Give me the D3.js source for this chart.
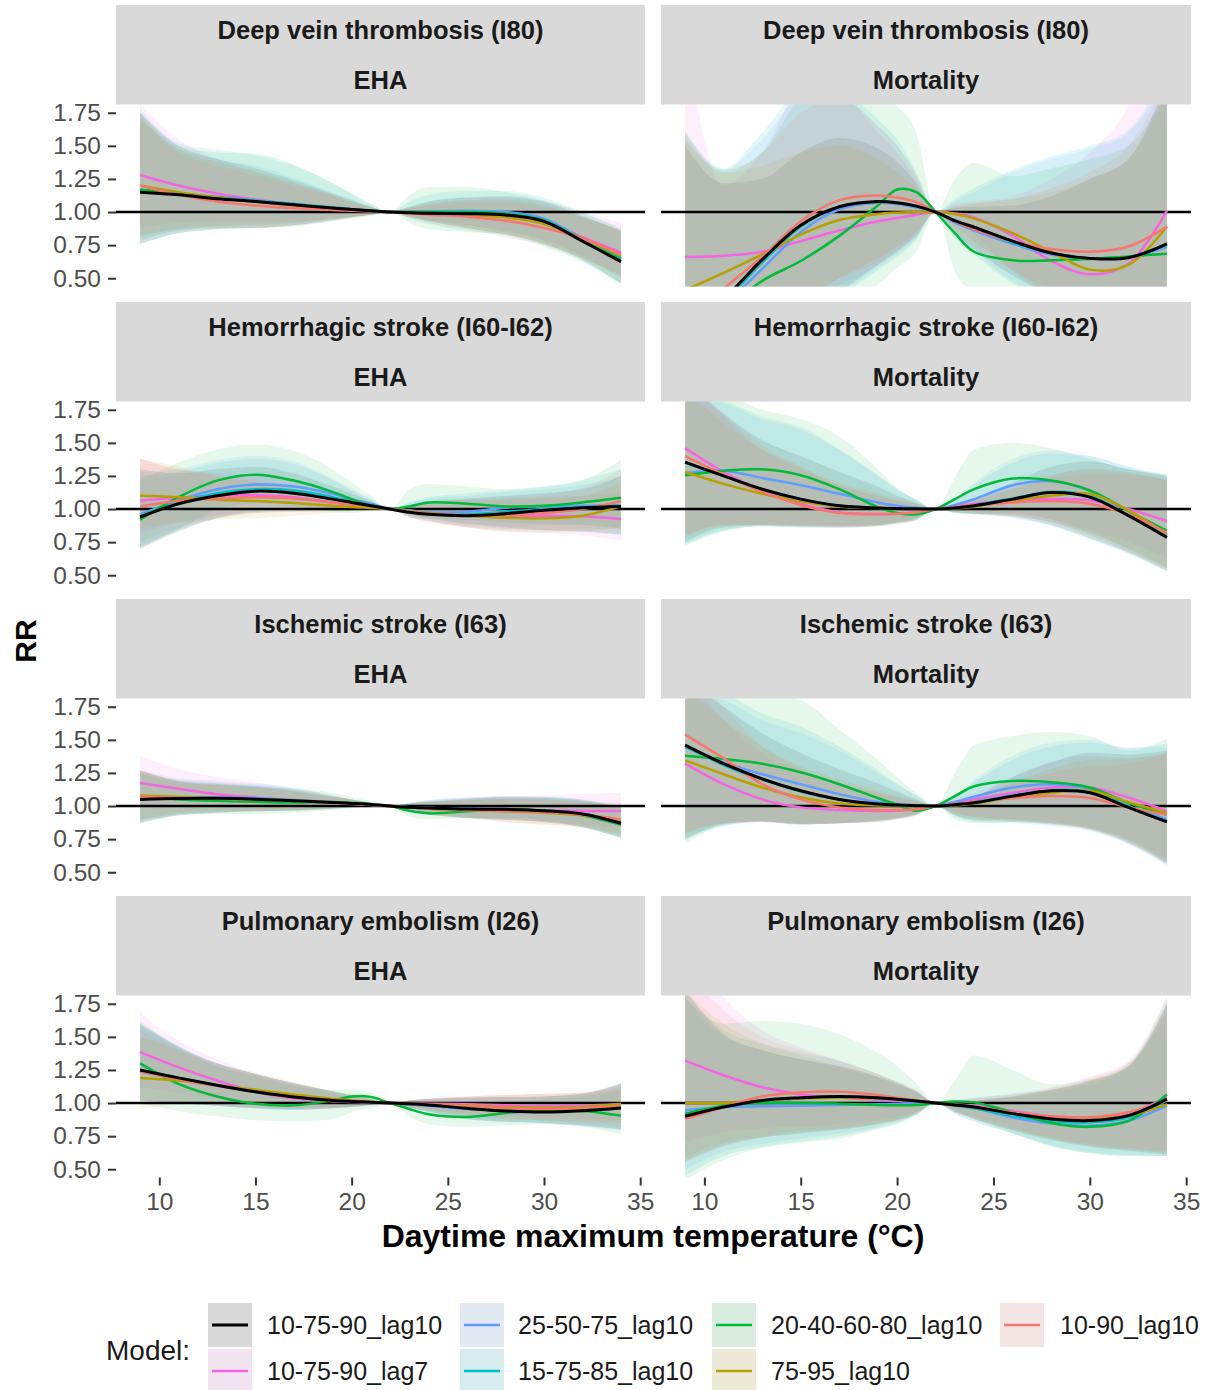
<!DOCTYPE html>
<html>
<head>
<meta charset="utf-8">
<script src="https://cdn.jsdelivr.net/npm/d3@7"></script>
<style>
  html, body { margin: 0; padding: 0; background: #ffffff; }
  svg { display: block; font-family: "Liberation Sans", Arial, Helvetica, sans-serif; }
</style>
</head>
<body>
<svg id="chart" width="1210" height="1390"></svg>
<script>
// ---------------------------------------------------------------------------
// Data: relative risk (RR) curves by daytime maximum temperature, reference 22 °C
// ---------------------------------------------------------------------------
const temps = [9, 11, 13, 15, 17, 19, 20, 21, 22, 23, 24, 26, 28, 30, 32, 34];
const models = ["10-75-90_lag10", "10-75-90_lag7", "25-50-75_lag10", "15-75-85_lag10",
                "20-40-60-80_lag10", "75-95_lag10", "10-90_lag10"];
const modelColors = ["#000000", "#F564E3", "#619CFF", "#00BFC4", "#00BA38", "#B79F00", "#F8766D"];
const outcomes = ["Deep vein thrombosis (I80)", "Hemorrhagic stroke (I60-I62)",
                  "Ischemic stroke (I63)", "Pulmonary embolism (I26)"];
const sources = ["EHA", "Mortality"];
const rrTicks = [0.50, 0.75, 1.00, 1.25, 1.50, 1.75];
const tempTicks = [10, 15, 20, 25, 30, 35];

// Deep vein thrombosis, EHA
const dvtEhaRR = [
  [1.15,1.13,1.10,1.08,1.055,1.03,1.02,1.01,1,0.995,0.99,0.988,0.978,0.93,0.78,0.625],
  [1.28,1.20,1.14,1.095,1.06,1.03,1.02,1.01,1,0.995,0.99,0.988,0.975,0.93,0.81,0.695],
  [1.165,1.14,1.115,1.09,1.06,1.035,1.022,1.01,1,1.0,1.005,1.01,1.0,0.95,0.80,0.665],
  [1.16,1.135,1.11,1.085,1.06,1.035,1.022,1.01,1,0.998,1.0,1.0,0.99,0.94,0.79,0.65],
  [1.17,1.14,1.11,1.08,1.055,1.03,1.02,1.01,1,1.0,1.0,1.0,0.985,0.935,0.785,0.64],
  [1.20,1.15,1.11,1.08,1.05,1.025,1.016,1.008,1,0.99,0.985,0.975,0.96,0.91,0.80,0.67],
  [1.20,1.13,1.08,1.05,1.03,1.015,1.01,1.005,1,0.99,0.98,0.965,0.935,0.88,0.80,0.68]
];
const dvtEhaLow = [
  [0.76,0.84,0.87,0.88,0.90,0.94,0.96,0.98,1,0.96,0.93,0.88,0.83,0.76,0.64,0.46],
  [0.88,0.92,0.93,0.93,0.93,0.95,0.965,0.98,1,0.97,0.94,0.90,0.86,0.79,0.67,0.53],
  [0.80,0.86,0.89,0.90,0.92,0.95,0.965,0.98,1,0.97,0.94,0.90,0.85,0.78,0.66,0.50],
  [0.76,0.84,0.87,0.88,0.90,0.94,0.96,0.98,1,0.95,0.91,0.86,0.82,0.74,0.62,0.45],
  [0.78,0.86,0.88,0.88,0.89,0.93,0.95,0.97,1,0.92,0.87,0.85,0.83,0.75,0.63,0.46],
  [0.82,0.88,0.90,0.91,0.92,0.95,0.965,0.98,1,0.96,0.93,0.88,0.83,0.76,0.65,0.51],
  [0.82,0.87,0.88,0.88,0.90,0.93,0.955,0.98,1,0.96,0.92,0.87,0.81,0.75,0.65,0.52]
];
const dvtEhaHigh = [
  [1.75,1.50,1.40,1.33,1.24,1.14,1.09,1.04,1,1.04,1.08,1.11,1.12,1.08,0.97,0.86],
  [1.82,1.55,1.40,1.30,1.22,1.13,1.08,1.04,1,1.03,1.06,1.09,1.10,1.08,1.00,0.92],
  [1.70,1.48,1.40,1.35,1.26,1.15,1.10,1.04,1,1.04,1.08,1.11,1.11,1.07,0.97,0.85],
  [1.78,1.52,1.47,1.43,1.35,1.22,1.14,1.06,1,1.08,1.13,1.16,1.16,1.11,1.00,0.88],
  [1.75,1.50,1.45,1.44,1.36,1.22,1.14,1.06,1,1.13,1.19,1.19,1.15,1.09,0.99,0.87],
  [1.72,1.47,1.38,1.31,1.22,1.13,1.08,1.04,1,1.03,1.06,1.09,1.09,1.05,0.96,0.86],
  [1.72,1.45,1.35,1.28,1.20,1.12,1.07,1.03,1,1.03,1.05,1.07,1.07,1.04,0.96,0.86]
];

// Deep vein thrombosis, mortality
const dvtMortRR = [
  [0.18,0.35,0.64,0.90,1.04,1.08,1.07,1.045,1,0.935,0.885,0.78,0.69,0.65,0.655,0.76],
  [0.66,0.67,0.70,0.78,0.86,0.93,0.955,0.98,1,0.99,0.96,0.82,0.63,0.53,0.61,1.01],
  [0.10,0.30,0.57,0.85,1.02,1.07,1.06,1.035,1,0.92,0.86,0.76,0.68,0.65,0.66,0.735],
  [0.15,0.33,0.62,0.89,1.04,1.08,1.07,1.045,1,0.935,0.88,0.77,0.69,0.65,0.66,0.75],
  [0.05,0.25,0.48,0.63,0.82,1.05,1.17,1.15,1,0.84,0.70,0.635,0.635,0.645,0.665,0.685],
  [0.41,0.54,0.68,0.83,0.94,0.985,0.995,1.0,1,0.985,0.95,0.84,0.70,0.565,0.60,0.89],
  [0.12,0.42,0.66,0.93,1.09,1.125,1.11,1.075,1,0.93,0.87,0.78,0.72,0.70,0.74,0.89]
];
const dvtMortLow = [
  [0.10,0.10,0.12,0.25,0.40,0.60,0.70,0.82,1,0.83,0.72,0.52,0.38,0.30,0.25,0.20],
  [0.20,0.20,0.25,0.32,0.45,0.60,0.70,0.82,1,0.92,0.82,0.55,0.35,0.25,0.25,0.40],
  [0.10,0.10,0.10,0.20,0.38,0.58,0.68,0.80,1,0.82,0.70,0.48,0.35,0.28,0.25,0.20],
  [0.10,0.10,0.10,0.20,0.36,0.56,0.66,0.79,1,0.80,0.68,0.46,0.33,0.27,0.24,0.20],
  [0.05,0.05,0.05,0.10,0.25,0.45,0.58,0.70,1,0.55,0.40,0.35,0.33,0.32,0.32,0.35],
  [0.10,0.12,0.20,0.35,0.50,0.65,0.74,0.85,1,0.88,0.78,0.56,0.38,0.28,0.26,0.30],
  [0.10,0.10,0.12,0.30,0.50,0.62,0.72,0.84,1,0.85,0.74,0.56,0.42,0.36,0.34,0.40]
];
const dvtMortHigh = [
  [1.50,1.22,1.25,1.45,1.56,1.48,1.38,1.22,1,1.03,1.04,1.05,1.12,1.25,1.40,2.00],
  [2.30,1.20,1.45,1.90,1.90,1.60,1.45,1.25,1,1.06,1.08,1.12,1.25,1.45,1.80,2.50],
  [1.55,1.32,1.55,1.85,1.85,1.65,1.50,1.28,1,1.08,1.15,1.30,1.40,1.48,1.60,2.00],
  [1.62,1.33,1.60,1.90,1.90,1.70,1.55,1.30,1,1.10,1.18,1.32,1.42,1.50,1.62,2.10],
  [1.60,1.32,1.45,1.85,1.95,1.90,1.80,1.60,1,1.25,1.37,1.27,1.33,1.40,1.50,1.90],
  [1.55,1.30,1.35,1.45,1.50,1.40,1.30,1.18,1,1.04,1.06,1.10,1.15,1.25,1.40,1.90],
  [1.60,1.30,1.45,1.75,1.85,1.65,1.50,1.28,1,1.05,1.07,1.10,1.18,1.30,1.50,2.00]
];

// Hemorrhagic stroke, EHA
const hemEhaRR = [
  [0.94,1.04,1.10,1.135,1.12,1.075,1.05,1.025,1,0.975,0.96,0.95,0.965,0.99,1.01,1.02],
  [1.065,1.085,1.10,1.105,1.09,1.05,1.035,1.02,1,0.98,0.965,0.95,0.94,0.95,0.945,0.925],
  [0.96,1.065,1.15,1.185,1.17,1.115,1.075,1.04,1,0.99,0.975,0.98,1.01,1.02,1.025,1.03],
  [0.95,1.05,1.12,1.15,1.14,1.09,1.06,1.03,1,0.98,0.965,0.96,0.98,1.0,1.015,1.025],
  [0.92,1.09,1.215,1.26,1.215,1.13,1.075,1.025,1,1.02,1.05,1.04,1.02,1.025,1.05,1.085],
  [1.10,1.09,1.07,1.06,1.045,1.025,1.015,1.008,1,0.985,0.97,0.95,0.935,0.93,0.95,1.02],
  [1.02,1.06,1.08,1.09,1.08,1.05,1.035,1.02,1,0.98,0.965,0.955,0.955,0.97,1.0,1.06]
];
const hemEhaLow = [
  [0.70,0.83,0.93,0.98,0.99,0.99,0.99,0.995,1,0.96,0.93,0.89,0.86,0.84,0.83,0.81],
  [0.82,0.90,0.95,0.97,0.98,0.985,0.99,0.995,1,0.94,0.91,0.86,0.83,0.82,0.80,0.76],
  [0.72,0.85,0.95,0.99,1.0,0.99,0.99,0.995,1,0.95,0.92,0.88,0.87,0.88,0.88,0.86],
  [0.72,0.84,0.93,0.97,0.98,0.98,0.985,0.99,1,0.94,0.91,0.87,0.85,0.84,0.83,0.80],
  [0.70,0.85,0.99,1.04,1.02,0.98,0.97,0.985,1,0.94,0.93,0.92,0.90,0.89,0.88,0.85],
  [0.85,0.90,0.92,0.93,0.95,0.97,0.98,0.99,1,0.94,0.91,0.86,0.83,0.82,0.83,0.86],
  [0.75,0.86,0.93,0.97,0.98,0.985,0.99,0.995,1,0.94,0.90,0.86,0.84,0.84,0.85,0.85]
];
const hemEhaHigh = [
  [1.30,1.27,1.30,1.32,1.27,1.17,1.12,1.06,1,1.03,1.06,1.08,1.10,1.12,1.15,1.25],
  [1.38,1.30,1.27,1.26,1.22,1.13,1.09,1.05,1,1.03,1.05,1.07,1.08,1.09,1.10,1.13],
  [1.28,1.30,1.37,1.40,1.36,1.23,1.15,1.08,1,1.05,1.08,1.10,1.13,1.15,1.18,1.25],
  [1.25,1.28,1.35,1.38,1.34,1.22,1.14,1.07,1,1.05,1.09,1.12,1.14,1.17,1.22,1.30],
  [1.22,1.35,1.45,1.49,1.44,1.30,1.20,1.10,1,1.15,1.19,1.17,1.15,1.17,1.22,1.37],
  [1.38,1.32,1.25,1.20,1.15,1.09,1.06,1.03,1,1.03,1.05,1.06,1.07,1.08,1.10,1.20],
  [1.38,1.30,1.25,1.22,1.18,1.12,1.08,1.04,1,1.03,1.05,1.07,1.08,1.11,1.16,1.30]
];

// Hemorrhagic stroke, mortality
const hemMortRR = [
  [1.355,1.25,1.15,1.075,1.025,1.008,1.004,1.002,1,1.008,1.025,1.075,1.125,1.09,0.95,0.785],
  [1.46,1.28,1.14,1.04,0.975,0.962,0.965,0.975,1,1.02,1.04,1.065,1.075,1.065,1.0,0.91],
  [1.27,1.29,1.235,1.18,1.115,1.05,1.025,1.01,1,1.03,1.075,1.18,1.21,1.14,0.985,0.80],
  [1.35,1.25,1.15,1.075,1.025,1.008,1.004,1.002,1,1.01,1.03,1.08,1.13,1.10,0.955,0.79],
  [1.255,1.29,1.30,1.255,1.15,1.015,0.97,0.96,1,1.075,1.15,1.23,1.215,1.14,0.985,0.835],
  [1.28,1.19,1.115,1.058,1.018,1.008,1.004,1.002,1,1.005,1.018,1.064,1.10,1.115,0.99,0.81],
  [1.40,1.26,1.13,1.03,0.97,0.96,0.965,0.975,1,1.015,1.03,1.05,1.06,1.04,0.96,0.82]
];
const hemMortLow = [
  [0.75,0.86,0.88,0.875,0.87,0.88,0.90,0.93,1,0.975,0.965,0.94,0.88,0.78,0.67,0.53],
  [0.80,0.88,0.88,0.87,0.86,0.87,0.89,0.92,1,0.985,0.98,0.96,0.92,0.84,0.75,0.63],
  [0.74,0.84,0.87,0.87,0.87,0.88,0.90,0.92,1,0.97,0.96,0.95,0.90,0.80,0.68,0.54],
  [0.73,0.84,0.87,0.86,0.86,0.87,0.89,0.92,1,0.97,0.96,0.93,0.87,0.77,0.66,0.53],
  [0.72,0.83,0.87,0.86,0.86,0.87,0.89,0.91,1,0.97,0.96,0.97,0.92,0.82,0.70,0.56],
  [0.78,0.87,0.88,0.87,0.87,0.88,0.90,0.93,1,0.98,0.97,0.95,0.90,0.80,0.68,0.55],
  [0.80,0.88,0.88,0.87,0.86,0.87,0.89,0.92,1,0.98,0.97,0.95,0.90,0.82,0.70,0.55]
];
const hemMortHigh = [
  [1.95,1.72,1.52,1.40,1.28,1.17,1.10,1.05,1,1.03,1.07,1.20,1.32,1.36,1.30,1.25],
  [2.00,1.70,1.45,1.30,1.18,1.10,1.07,1.04,1,1.04,1.08,1.18,1.26,1.30,1.28,1.22],
  [1.85,1.80,1.68,1.60,1.45,1.26,1.15,1.07,1,1.08,1.20,1.38,1.44,1.40,1.32,1.25],
  [1.90,1.82,1.70,1.62,1.45,1.25,1.15,1.07,1,1.08,1.18,1.35,1.42,1.40,1.32,1.26],
  [1.80,1.85,1.75,1.68,1.55,1.30,1.16,1.07,1,1.24,1.45,1.50,1.46,1.38,1.30,1.26],
  [1.90,1.65,1.45,1.32,1.20,1.12,1.08,1.04,1,1.03,1.06,1.15,1.25,1.30,1.27,1.22],
  [2.00,1.72,1.48,1.32,1.18,1.10,1.06,1.03,1,1.03,1.07,1.15,1.23,1.26,1.26,1.22]
];

// Ischemic stroke, EHA
const iscEhaRR = [
  [1.05,1.057,1.058,1.052,1.04,1.027,1.02,1.012,1,0.99,0.985,0.977,0.975,0.965,0.94,0.87],
  [1.175,1.13,1.09,1.065,1.04,1.022,1.015,1.008,1,0.99,0.985,0.977,0.973,0.968,0.963,0.962],
  [1.06,1.065,1.065,1.058,1.045,1.03,1.02,1.012,1,0.99,0.985,0.978,0.975,0.965,0.94,0.87],
  [1.055,1.06,1.06,1.055,1.04,1.027,1.02,1.01,1,0.99,0.985,0.977,0.974,0.962,0.935,0.86],
  [1.075,1.05,1.04,1.032,1.027,1.03,1.025,1.015,1,0.965,0.945,0.96,0.975,0.965,0.93,0.86],
  [1.08,1.07,1.06,1.05,1.04,1.027,1.02,1.01,1,0.99,0.98,0.97,0.96,0.95,0.93,0.89],
  [1.07,1.06,1.055,1.05,1.04,1.027,1.02,1.01,1,0.99,0.98,0.97,0.962,0.952,0.935,0.90]
];
const iscEhaLow = [
  [0.87,0.93,0.95,0.96,0.965,0.98,0.99,0.995,1,0.965,0.94,0.91,0.895,0.88,0.84,0.76],
  [0.98,0.98,0.975,0.97,0.975,0.985,0.99,0.995,1,0.965,0.945,0.92,0.90,0.88,0.86,0.84],
  [0.88,0.94,0.95,0.96,0.97,0.98,0.99,0.995,1,0.96,0.935,0.91,0.90,0.885,0.85,0.77],
  [0.87,0.93,0.95,0.96,0.965,0.98,0.99,0.995,1,0.96,0.935,0.91,0.895,0.88,0.84,0.76],
  [0.89,0.93,0.94,0.94,0.95,0.97,0.985,0.99,1,0.92,0.90,0.91,0.91,0.89,0.84,0.76],
  [0.90,0.95,0.96,0.965,0.97,0.985,0.99,0.995,1,0.965,0.94,0.91,0.88,0.86,0.84,0.78],
  [0.89,0.94,0.955,0.96,0.97,0.985,0.99,0.995,1,0.965,0.94,0.91,0.88,0.86,0.84,0.79]
];
const iscEhaHigh = [
  [1.27,1.19,1.17,1.15,1.12,1.07,1.05,1.025,1,1.02,1.035,1.055,1.065,1.06,1.04,0.99],
  [1.38,1.28,1.22,1.18,1.13,1.08,1.05,1.025,1,1.02,1.04,1.06,1.075,1.08,1.09,1.10],
  [1.27,1.21,1.19,1.17,1.14,1.08,1.05,1.025,1,1.025,1.045,1.065,1.075,1.07,1.05,1.00],
  [1.26,1.20,1.18,1.16,1.13,1.08,1.05,1.025,1,1.025,1.045,1.065,1.07,1.065,1.045,0.99],
  [1.25,1.18,1.16,1.15,1.13,1.10,1.07,1.04,1,1.02,1.03,1.05,1.07,1.07,1.05,0.99],
  [1.27,1.19,1.16,1.14,1.11,1.07,1.05,1.025,1,1.02,1.03,1.045,1.055,1.05,1.03,1.02],
  [1.27,1.19,1.16,1.14,1.11,1.07,1.05,1.025,1,1.02,1.03,1.045,1.055,1.05,1.035,1.03]
];

// Ischemic stroke, mortality
const iscMortRR = [
  [1.46,1.32,1.205,1.115,1.05,1.015,1.007,1.003,1,1.01,1.025,1.075,1.115,1.10,0.99,0.88],
  [1.32,1.165,1.05,0.99,0.97,0.962,0.965,0.975,1,1.03,1.05,1.10,1.14,1.14,1.065,0.962],
  [1.445,1.33,1.24,1.165,1.09,1.03,1.015,1.005,1,1.03,1.07,1.14,1.165,1.13,1.0,0.90],
  [1.45,1.31,1.20,1.11,1.05,1.015,1.007,1.003,1,1.01,1.03,1.08,1.12,1.11,1.0,0.885],
  [1.38,1.355,1.32,1.255,1.165,1.06,1.01,0.965,1,1.075,1.15,1.19,1.18,1.14,1.025,0.935],
  [1.345,1.24,1.14,1.065,1.02,1.005,1.003,1.001,1,1.005,1.02,1.065,1.10,1.115,1.03,0.95],
  [1.54,1.36,1.165,1.05,0.99,0.97,0.97,0.975,1,1.015,1.03,1.06,1.075,1.06,0.99,0.935]
];
const iscMortLow = [
  [0.75,0.86,0.885,0.865,0.87,0.89,0.91,0.94,1,0.93,0.89,0.88,0.86,0.82,0.72,0.56],
  [0.80,0.87,0.88,0.86,0.87,0.88,0.90,0.93,1,0.95,0.92,0.90,0.88,0.84,0.75,0.60],
  [0.76,0.86,0.885,0.865,0.87,0.89,0.91,0.94,1,0.93,0.90,0.89,0.87,0.83,0.73,0.57],
  [0.74,0.85,0.88,0.86,0.87,0.885,0.905,0.935,1,0.92,0.88,0.87,0.85,0.81,0.71,0.55],
  [0.72,0.85,0.88,0.86,0.87,0.88,0.90,0.93,1,0.90,0.87,0.88,0.87,0.83,0.74,0.58],
  [0.78,0.87,0.885,0.865,0.87,0.89,0.91,0.94,1,0.94,0.91,0.89,0.87,0.83,0.74,0.58],
  [0.80,0.87,0.88,0.86,0.87,0.88,0.90,0.93,1,0.95,0.92,0.90,0.87,0.82,0.72,0.57]
];
const iscMortHigh = [
  [1.95,1.75,1.55,1.40,1.28,1.17,1.11,1.05,1,1.03,1.07,1.22,1.33,1.40,1.39,1.42],
  [2.00,1.65,1.40,1.27,1.18,1.10,1.07,1.04,1,1.05,1.10,1.22,1.33,1.38,1.36,1.40],
  [1.85,1.80,1.65,1.55,1.42,1.25,1.16,1.08,1,1.08,1.20,1.38,1.48,1.50,1.44,1.45],
  [1.90,1.85,1.70,1.60,1.45,1.27,1.17,1.08,1,1.08,1.18,1.35,1.45,1.48,1.44,1.47],
  [1.80,1.85,1.85,1.80,1.58,1.35,1.22,1.10,1,1.25,1.46,1.53,1.56,1.53,1.42,1.51],
  [1.90,1.65,1.45,1.30,1.20,1.12,1.08,1.04,1,1.03,1.07,1.18,1.28,1.35,1.36,1.40],
  [2.10,1.75,1.45,1.28,1.17,1.10,1.06,1.03,1,1.04,1.08,1.17,1.25,1.30,1.32,1.40]
];

// Pulmonary embolism, EHA
const peEhaRR = [
  [1.25,1.19,1.135,1.085,1.045,1.02,1.012,1.006,1,0.994,0.985,0.96,0.94,0.932,0.942,0.963],
  [1.385,1.27,1.17,1.085,1.035,1.013,1.007,1.003,1,0.997,0.995,0.99,0.983,0.978,0.98,0.99],
  [1.24,1.18,1.13,1.085,1.045,1.02,1.012,1.006,1,0.99,0.98,0.955,0.945,0.94,0.945,0.96],
  [1.25,1.19,1.135,1.085,1.045,1.02,1.012,1.006,1,0.993,0.984,0.958,0.94,0.935,0.943,0.962],
  [1.30,1.145,1.05,0.995,0.983,1.02,1.05,1.045,1,0.955,0.915,0.895,0.925,0.945,0.94,0.905],
  [1.19,1.17,1.135,1.10,1.065,1.033,1.02,1.01,1,0.995,0.99,0.982,0.97,0.965,0.97,0.995],
  [1.24,1.18,1.13,1.085,1.045,1.02,1.012,1.006,1,0.995,0.99,0.975,0.96,0.955,0.96,0.975]
];
const peEhaLow = [
  [1.02,1.00,0.98,0.96,0.95,0.96,0.97,0.985,1,0.965,0.935,0.88,0.86,0.85,0.83,0.80],
  [1.12,1.08,1.03,0.98,0.96,0.965,0.975,0.985,1,0.97,0.95,0.92,0.90,0.89,0.88,0.87],
  [1.02,1.00,0.98,0.96,0.95,0.96,0.97,0.985,1,0.96,0.93,0.875,0.855,0.845,0.825,0.79],
  [1.02,1.00,0.98,0.96,0.95,0.96,0.97,0.985,1,0.965,0.935,0.88,0.86,0.85,0.83,0.80],
  [1.00,0.94,0.90,0.87,0.86,0.88,0.93,0.96,1,0.90,0.84,0.82,0.83,0.84,0.82,0.76],
  [0.95,0.99,0.99,0.98,0.97,0.97,0.975,0.985,1,0.97,0.95,0.91,0.88,0.87,0.86,0.85],
  [1.00,0.99,0.98,0.96,0.95,0.96,0.97,0.985,1,0.97,0.945,0.90,0.88,0.87,0.85,0.82]
];
const peEhaHigh = [
  [1.60,1.43,1.30,1.22,1.15,1.09,1.06,1.03,1,1.02,1.03,1.04,1.045,1.05,1.07,1.15],
  [1.68,1.47,1.33,1.22,1.14,1.07,1.05,1.025,1,1.02,1.035,1.05,1.06,1.07,1.08,1.12],
  [1.58,1.42,1.30,1.22,1.15,1.09,1.06,1.03,1,1.02,1.03,1.04,1.045,1.05,1.07,1.14],
  [1.60,1.43,1.30,1.22,1.15,1.09,1.06,1.03,1,1.02,1.03,1.04,1.045,1.05,1.07,1.15],
  [1.62,1.42,1.28,1.20,1.13,1.10,1.10,1.08,1,1.02,1.01,1.00,1.01,1.03,1.05,1.10],
  [1.50,1.40,1.30,1.23,1.16,1.09,1.06,1.03,1,1.02,1.03,1.05,1.06,1.07,1.08,1.15],
  [1.55,1.40,1.29,1.22,1.15,1.09,1.06,1.03,1,1.02,1.035,1.05,1.06,1.065,1.075,1.13]
];

// Pulmonary embolism, mortality
const peMortRR = [
  [0.90,0.97,1.02,1.04,1.05,1.04,1.028,1.015,1,0.985,0.97,0.92,0.88,0.868,0.905,1.03],
  [1.32,1.21,1.12,1.065,1.04,1.025,1.015,1.008,1,0.99,0.98,0.94,0.90,0.89,0.92,1.045],
  [0.945,0.97,0.975,0.98,0.985,0.99,0.993,0.996,1,0.985,0.965,0.89,0.845,0.83,0.865,0.98],
  [0.91,0.975,1.015,1.035,1.045,1.035,1.025,1.012,1,0.98,0.96,0.905,0.865,0.855,0.89,1.02],
  [0.92,0.98,1.0,1.0,0.995,0.985,0.983,0.985,1,1.012,1.005,0.93,0.85,0.82,0.865,1.065],
  [1.0,1.0,1.02,1.035,1.04,1.035,1.025,1.013,1,0.985,0.97,0.925,0.895,0.885,0.905,0.99],
  [0.88,0.97,1.05,1.08,1.085,1.06,1.04,1.02,1,0.985,0.97,0.93,0.90,0.893,0.93,1.02]
];
const peMortLow = [
  [0.56,0.68,0.74,0.77,0.80,0.84,0.87,0.92,1,0.93,0.88,0.79,0.72,0.67,0.64,0.61],
  [0.70,0.78,0.81,0.82,0.84,0.87,0.89,0.93,1,0.94,0.90,0.81,0.74,0.69,0.66,0.64],
  [0.50,0.63,0.69,0.73,0.77,0.82,0.86,0.91,1,0.92,0.86,0.77,0.68,0.63,0.61,0.60],
  [0.45,0.60,0.67,0.71,0.75,0.81,0.85,0.91,1,0.92,0.86,0.77,0.68,0.62,0.60,0.60],
  [0.42,0.57,0.66,0.70,0.73,0.80,0.84,0.91,1,0.94,0.88,0.77,0.67,0.62,0.60,0.60],
  [0.58,0.70,0.75,0.79,0.81,0.85,0.88,0.93,1,0.94,0.89,0.80,0.73,0.68,0.65,0.62],
  [0.55,0.67,0.74,0.78,0.80,0.84,0.87,0.92,1,0.93,0.88,0.80,0.73,0.68,0.65,0.63]
];
const peMortHigh = [
  [1.85,1.52,1.40,1.33,1.28,1.20,1.15,1.09,1,1.01,1.02,1.05,1.10,1.17,1.28,1.75],
  [2.20,1.80,1.55,1.42,1.32,1.22,1.16,1.10,1,1.02,1.04,1.07,1.12,1.20,1.32,1.80],
  [1.80,1.50,1.40,1.33,1.27,1.19,1.14,1.08,1,1.01,1.02,1.04,1.08,1.15,1.26,1.70],
  [1.85,1.55,1.45,1.38,1.32,1.22,1.16,1.09,1,1.02,1.04,1.07,1.10,1.16,1.28,1.75],
  [1.80,1.60,1.62,1.60,1.52,1.38,1.28,1.15,1,1.17,1.36,1.25,1.14,1.18,1.30,1.80],
  [1.85,1.60,1.45,1.36,1.28,1.20,1.14,1.08,1,1.01,1.02,1.05,1.10,1.17,1.28,1.72],
  [2.00,1.70,1.50,1.40,1.32,1.22,1.16,1.09,1,1.01,1.03,1.06,1.11,1.19,1.30,1.76]
];

// Facet grid: one entry per outcome (row) and source (column)
const panels = [
  { row: 0, col: 0, rr: dvtEhaRR,  lo: dvtEhaLow,  hi: dvtEhaHigh },
  { row: 0, col: 1, rr: dvtMortRR, lo: dvtMortLow, hi: dvtMortHigh },
  { row: 1, col: 0, rr: hemEhaRR,  lo: hemEhaLow,  hi: hemEhaHigh },
  { row: 1, col: 1, rr: hemMortRR, lo: hemMortLow, hi: hemMortHigh },
  { row: 2, col: 0, rr: iscEhaRR,  lo: iscEhaLow,  hi: iscEhaHigh },
  { row: 2, col: 1, rr: iscMortRR, lo: iscMortLow, hi: iscMortHigh },
  { row: 3, col: 0, rr: peEhaRR,   lo: peEhaLow,   hi: peEhaHigh },
  { row: 3, col: 1, rr: peMortRR,  lo: peMortLow,  hi: peMortHigh }
];

// ---------------------------------------------------------------------------
// Layout
// ---------------------------------------------------------------------------
const svg = d3.select("#chart");
const colSpan = [[116, 645], [661, 1191]];
const rowStep = 297, firstStrip = 5, stripH = 49.75, panelH = 182;
const textDark = "#1a1a1a", tickText = "#4d4d4d";
const ribbonAlpha = 0.1;

function rowGeom(r) {
  const stripTop = firstStrip + r * rowStep;
  const top = stripTop + 2 * stripH;
  return { stripTop, top, bottom: top + panelH };
}

const lineGen = (x, y) => d3.line()
  .x((d, i) => x(temps[i])).y(d => y(d))
  .curve(d3.curveCatmullRom.alpha(0.5));
const areaGen = (x, y, lo) => d3.area()
  .x((d, i) => x(temps[i])).y0((d, i) => y(lo[i])).y1(d => y(d))
  .curve(d3.curveMonotoneX);

panels.forEach((p, pi) => {
  const g = rowGeom(p.row);
  const [x0, x1] = colSpan[p.col];
  const x = d3.scaleLinear().domain([7.75, 35.25]).range([x0, x1]);
  const y = d3.scaleLinear().domain([0.4375, 1.8125]).range([g.bottom, g.top]);

  // facet strips
  [outcomes[p.row], sources[p.col]].forEach((label, k) => {
    const sy = g.stripTop + k * stripH;
    svg.append("rect").attr("x", x0).attr("y", sy).attr("width", x1 - x0)
      .attr("height", stripH + (k === 0 ? 0.5 : 0)).attr("fill", "#d9d9d9");
    svg.append("text").attr("x", (x0 + x1) / 2).attr("y", sy + stripH / 2)
      .attr("dy", "0.36em").attr("text-anchor", "middle")
      .attr("font-size", 25.5).attr("font-weight", "bold").attr("fill", textDark)
      .text(label);
  });

  const clipId = "clip" + pi;
  svg.append("clipPath").attr("id", clipId).append("rect")
    .attr("x", x0).attr("y", g.top).attr("width", x1 - x0).attr("height", g.bottom - g.top);
  const plot = svg.append("g").attr("clip-path", `url(#${clipId})`);

  // confidence ribbons
  p.hi.forEach((hi, m) => {
    plot.append("path").datum(hi)
      .attr("d", areaGen(x, y, p.lo[m]))
      .attr("fill", modelColors[m]).attr("fill-opacity", ribbonAlpha);
  });

  // reference line RR = 1
  plot.append("line").attr("x1", x0).attr("x2", x1)
    .attr("y1", y(1)).attr("y2", y(1))
    .attr("stroke", "#000").attr("stroke-width", 2.4);

  // RR curves, main model last so it sits on top
  const order = [1, 2, 3, 4, 5, 6, 0];
  order.forEach(m => {
    plot.append("path").datum(p.rr[m])
      .attr("d", lineGen(x, y))
      .attr("fill", "none").attr("stroke", modelColors[m])
      .attr("stroke-width", m === 0 ? 3 : 2.5)
      .attr("stroke-linejoin", "round").attr("stroke-linecap", "butt");
  });

  // y axis on the left column
  if (p.col === 0) {
    const ax = svg.append("g").attr("transform", `translate(${x0},0)`)
      .call(d3.axisLeft(y).tickValues(rrTicks).tickFormat(d3.format(".2f"))
        .tickSize(8).tickPadding(7));
    ax.select(".domain").remove();
    ax.selectAll(".tick line").attr("stroke", "#333333").attr("stroke-width", 2);
    ax.selectAll(".tick text").attr("fill", tickText).attr("font-size", 24.5)
      .attr("font-family", "'Liberation Sans', Arial, sans-serif");
  }
  // x axis on the bottom row
  if (p.row === outcomes.length - 1) {
    const ax = svg.append("g").attr("transform", `translate(0,${g.bottom})`)
      .call(d3.axisBottom(x).tickValues(tempTicks).tickFormat(d3.format("d"))
        .tickSize(8).tickPadding(7));
    ax.select(".domain").remove();
    ax.selectAll(".tick line").attr("stroke", "#333333").attr("stroke-width", 2);
    ax.selectAll(".tick text").attr("fill", tickText).attr("font-size", 24.5)
      .attr("font-family", "'Liberation Sans', Arial, sans-serif");
  }
});

// axis titles
svg.append("text").attr("x", 653).attr("y", 1247).attr("text-anchor", "middle")
  .attr("font-size", 32).attr("font-weight", "bold").attr("fill", "#000")
  .text("Daytime maximum temperature (°C)");
svg.append("text").attr("transform", "translate(25,641) rotate(-90)")
  .attr("dy", "0.36em").attr("text-anchor", "middle")
  .attr("font-size", 30).attr("font-weight", "bold").attr("fill", "#000")
  .text("RR");

// ---------------------------------------------------------------------------
// Legend
// ---------------------------------------------------------------------------
const legend = svg.append("g");
legend.append("text").attr("x", 106).attr("y", 1360)
  .attr("font-size", 28).attr("fill", textDark).text("Model:");
const keyX = [208, 460, 712, 1000], labelX = [267, 518, 771, 1060];
const keyY = [1303, 1349], keyW = 44, keyH = 44;
models.forEach((name, i) => {
  const c = Math.floor(i / 2), r = i % 2;
  const kx = keyX[c], ky = keyY[r];
  legend.append("rect").attr("x", kx).attr("y", ky).attr("width", keyW).attr("height", keyH)
    .attr("fill", "#f2f2f2");
  legend.append("rect").attr("x", kx).attr("y", ky).attr("width", keyW).attr("height", keyH)
    .attr("fill", modelColors[i]).attr("fill-opacity", ribbonAlpha);
  legend.append("line").attr("x1", kx + 4).attr("x2", kx + keyW - 4)
    .attr("y1", ky + keyH / 2).attr("y2", ky + keyH / 2)
    .attr("stroke", modelColors[i]).attr("stroke-width", i === 0 ? 3 : 2.5);
  legend.append("text").attr("x", labelX[c]).attr("y", ky + keyH / 2)
    .attr("dy", "0.36em").attr("font-size", 25).attr("fill", textDark).text(name);
});
</script>
</body>
</html>
